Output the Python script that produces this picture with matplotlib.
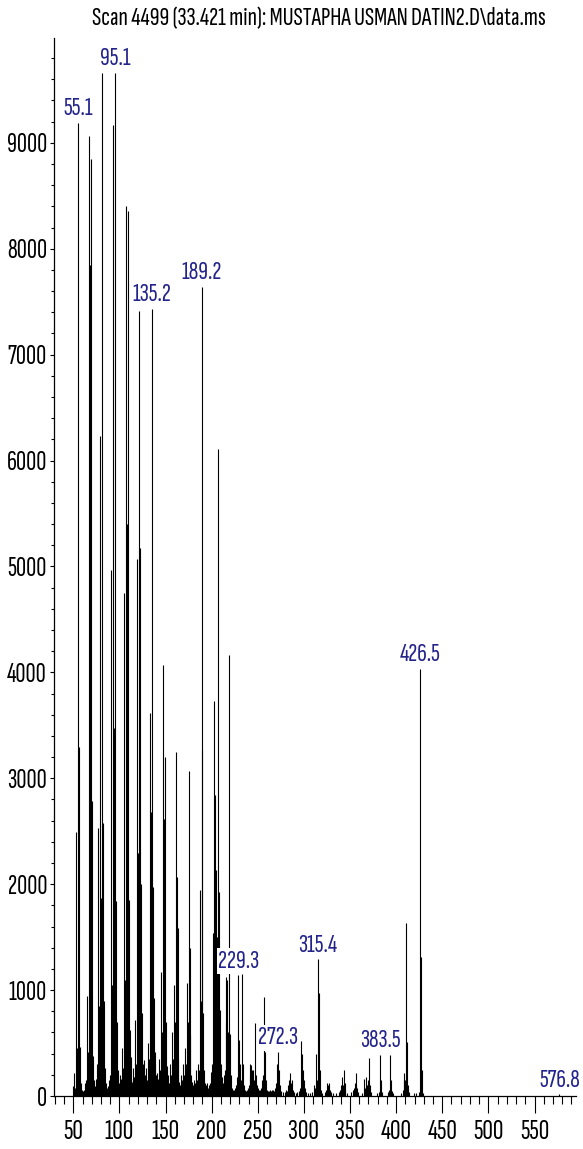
import matplotlib

matplotlib.use("Agg")
import matplotlib.pyplot as plt
from matplotlib import font_manager
from matplotlib.ticker import MultipleLocator

# mass spectrum, scan 4499 (33.421 min)
mz = [
    50, 51, 52, 53, 54, 55, 56, 57, 58, 59, 60, 61, 62, 63, 64, 65, 66, 67, 68, 69,
    70, 71, 72, 73, 74, 75, 76, 77, 78, 79, 80, 81, 82, 83, 84, 85, 86, 87, 88, 89,
    90, 91, 92, 93, 94, 95, 96, 97, 98, 99, 100, 101, 102, 103, 104, 105, 106, 107, 108, 109,
    110, 111, 112, 113, 114, 115, 116, 117, 118, 119, 120, 121, 122, 123, 124, 125, 126, 127, 128, 129,
    130, 131, 132, 133, 134, 135, 136, 137, 138, 139, 140, 141, 142, 143, 144, 145, 146, 147, 148, 149,
    150, 151, 152, 153, 154, 155, 156, 157, 158, 159, 160, 161, 162, 163, 164, 165, 166, 167, 168, 169,
    170, 171, 172, 173, 174, 175, 176, 177, 178, 179, 180, 181, 182, 183, 184, 185, 186, 187, 188, 189,
    190, 191, 192, 193, 194, 195, 196, 197, 198, 199, 200, 201, 202, 203, 204, 205, 206, 207, 208, 209,
    210, 211, 212, 213, 214, 215, 216, 217, 218, 219, 220, 221, 222, 223, 224, 225, 226, 227, 228, 229,
    230, 231, 232, 233, 234, 235, 236, 237, 238, 239, 240, 241, 242, 243, 244, 245, 246, 247, 248, 249,
    250, 251, 252, 253, 254, 255, 256, 257, 258, 259, 260, 261, 262, 263, 264, 265, 266, 267, 268, 269,
    270, 271, 272, 273, 274, 275, 277, 279, 281, 282, 283, 284, 285, 286, 287, 288, 289, 291, 293, 295,
    296, 297, 298, 299, 300, 301, 302, 304, 307, 309, 311, 312, 313, 314, 315, 316, 317, 318, 320, 323,
    324, 325, 326, 327, 328, 329, 331, 335, 338, 339, 340, 341, 342, 343, 344, 345, 347, 351, 353, 354,
    355, 356, 357, 358, 359, 363, 365, 366, 367, 368, 369, 370, 371, 372, 373, 379, 381, 382, 383, 384,
    385, 391, 392, 393, 394, 395, 397, 405, 407, 408, 409, 410, 411, 412, 413, 414, 419, 421, 425, 426,
    427, 428, 429, 577,
]
abundance = [
    90, 220, 80, 2490, 450, 9190, 3300, 460, 120, 60, 40, 50, 60, 120, 150, 940, 420, 9060, 7850, 8850,
    2790, 380, 150, 90, 80, 160, 300, 2530, 850, 6230, 1870, 9660, 2580, 900, 260, 120, 60, 80, 90, 150,
    200, 4970, 1050, 9170, 3470, 9660, 1840, 700, 250, 110, 120, 200, 160, 450, 260, 4750, 1100, 8400, 5400, 8360,
    1850, 620, 150, 370, 130, 260, 180, 720, 300, 5075, 2290, 7415, 5170, 2000, 780, 300, 150, 340, 200, 260,
    150, 500, 350, 3620, 2680, 7430, 1975, 925, 300, 420, 200, 220, 160, 350, 250, 1170, 600, 4070, 2620, 3200,
    700, 280, 140, 200, 120, 300, 200, 600, 350, 1050, 700, 3250, 2070, 1585, 350, 130, 100, 200, 150, 300,
    200, 450, 300, 1065, 700, 3065, 1395, 575, 200, 130, 100, 150, 120, 250, 150, 300, 250, 1945, 900, 7640,
    3265, 780, 250, 120, 100, 120, 80, 100, 120, 230, 300, 1535, 900, 3730, 2840, 2130, 1500, 6110, 1925, 810,
    300, 180, 120, 200, 250, 1125, 700, 1100, 600, 4160, 590, 200, 80, 60, 60, 80, 100, 180, 200, 1140,
    530, 300, 150, 1150, 300, 100, 60, 50, 60, 80, 100, 300, 200, 290, 250, 250, 150, 690, 200, 100,
    80, 60, 60, 80, 60, 150, 200, 935, 415, 150, 60, 50, 50, 60, 50, 60, 50, 60, 50, 80,
    120, 300, 415, 250, 100, 50, 40, 40, 60, 50, 100, 150, 220, 120, 150, 60, 40, 30, 40, 50,
    80, 520, 400, 250, 150, 80, 40, 30, 30, 40, 100, 80, 400, 150, 1290, 970, 250, 60, 30, 40,
    60, 120, 100, 120, 60, 40, 30, 30, 40, 60, 100, 180, 100, 245, 120, 60, 30, 40, 60, 80,
    120, 100, 215, 80, 40, 30, 160, 80, 180, 100, 150, 50, 355, 100, 40, 30, 40, 60, 385, 150,
    40, 40, 60, 385, 150, 50, 30, 30, 60, 220, 150, 150, 1635, 510, 100, 40, 30, 30, 40, 4030,
    1310, 245, 30, 15,
]

# annotated peaks (nominal mass) and the label printed above each
label_mz = [55, 95, 135, 189, 229, 272, 315, 383, 426, 577]
label_text = ["55.1", "95.1", "135.2", "189.2", "229.3", "272.3", "315.4", "383.5", "426.5", "576.8"]


def pick_font(wanted):
    have = {f.name for f in font_manager.fontManager.ttflist}
    for name in wanted:
        if name in have:
            return name
    return "DejaVu Sans"


font = pick_font(["Sofia Sans Extra Condensed", "Saira ExtraCondensed", "Roboto Condensed",
                  "Archivo Narrow", "Liberation Sans"])
plt.rcParams["font.family"] = [font, "DejaVu Sans"]

fig = plt.figure(figsize=(5.83, 11.49), dpi=100)
ax = fig.add_axes([0.0926, 0.0461, 0.8954, 0.9209])

ax.vlines(mz, 0, abundance, color="black", linewidth=0.8, zorder=2)

peak = dict(zip(mz, abundance))
for m, txt in zip(label_mz, label_text):
    ax.annotate(txt, (m, peak[m]), xytext=(0, 2), textcoords="offset points",
                ha="center", va="bottom", fontsize=19.5, color="#23238c",
                bbox=dict(boxstyle="square,pad=0.05", fc="white", ec="none"),
                zorder=3, annotation_clip=False)

ax.set_xlim(29, 595)
ax.set_ylim(0, 9990)

ax.xaxis.set_major_locator(MultipleLocator(50))
ax.xaxis.set_minor_locator(MultipleLocator(10))
ax.yaxis.set_major_locator(MultipleLocator(1000))
ax.yaxis.set_minor_locator(MultipleLocator(200))

ax.tick_params(axis="x", which="major", length=12, width=0.8, labelsize=21, pad=5)
ax.tick_params(axis="x", which="minor", length=6, width=0.8)
ax.tick_params(axis="y", which="major", length=3, width=0.8, labelsize=20, pad=2)
ax.tick_params(axis="y", which="minor", length=2, width=0.8)

for side in ("top", "right"):
    ax.spines[side].set_visible(False)
for side in ("left", "bottom"):
    ax.spines[side].set_linewidth(0.9)

fig.text(0.547, 0.984, "Scan 4499 (33.421 min): MUSTAPHA USMAN DATIN2.D\\data.ms",
         ha="center", va="center", fontsize=19.5)

fig.savefig("out.png", dpi=100)
